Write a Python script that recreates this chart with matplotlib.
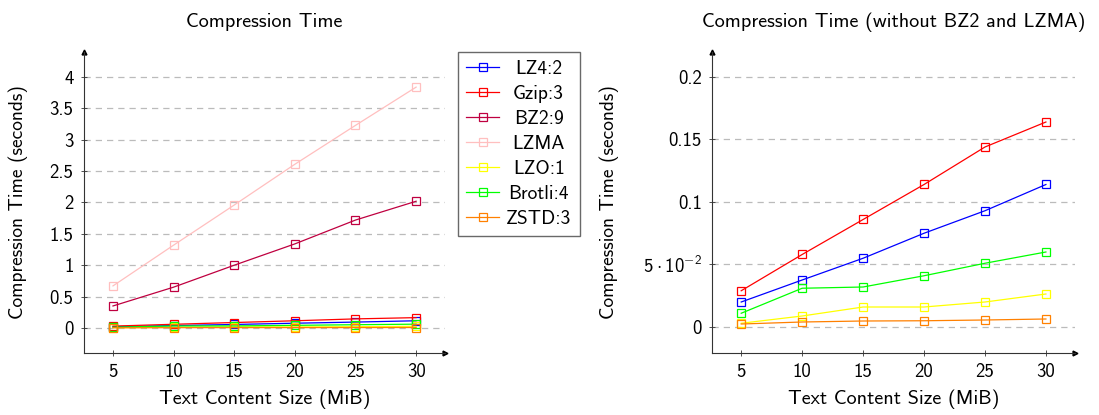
import matplotlib.pyplot as plt
from matplotlib.lines import Line2D

plt.rcParams['font.family'] = ['cmss10', 'DejaVu Sans']
plt.rcParams['mathtext.fontset'] = 'custom'
plt.rcParams['mathtext.rm'] = 'cmss10'
plt.rcParams['axes.formatter.use_mathtext'] = True

# data (seconds) per text size in MiB
sizes = [5, 10, 15, 20, 25, 30]
lz4 = [0.020, 0.0376, 0.055, 0.075, 0.093, 0.114]
gzip = [0.029, 0.058, 0.086, 0.114, 0.144, 0.164]
bz2 = [0.35, 0.65, 1.00, 1.34, 1.72, 2.02]
lzma = [0.67, 1.32, 1.96, 2.61, 3.23, 3.84]
lzo = [0.003, 0.0088, 0.016, 0.016, 0.020, 0.0264]
brotli = [0.011, 0.031, 0.032, 0.041, 0.051, 0.060]
zstd = [0.0024, 0.004, 0.0048, 0.005, 0.0056, 0.0064]

names = ['LZ4:2', 'Gzip:3', 'BZ2:9', 'LZMA', 'LZO:1', 'Brotli:4', 'ZSTD:3']
colors = ['#0000ff', '#ff0000', '#bf0040', '#ffbfbf', '#ffff00', '#00ff00', '#ff8000']
series = [lz4, gzip, bz2, lzma, lzo, brotli, zstd]

left_ticks = [0, 0.5, 1, 1.5, 2, 2.5, 3, 3.5, 4]
left_labels = ['0', '0.5', '1', '1.5', '2', '2.5', '3', '3.5', '4']
right_ticks = [0, 0.05, 0.1, 0.15, 0.2]
right_labels = ['0', r'$5\cdot10^{-2}$', '0.1', '0.15', '0.2']

MS = 5.5
LW = 0.9

fig = plt.figure(figsize=(10.99, 4.15), dpi=100)
ax1 = fig.add_axes([0.0764, 0.1494, 0.3286, 0.7253])
ax2 = fig.add_axes([0.6479, 0.1494, 0.3303, 0.7253])


def style_axes(ax, ylim, yticks, ylabels, title):
    ax.set_xlim(2.607, 32.39)
    ax.set_ylim(*ylim)
    ax.set_xticks(sizes)
    ax.set_xticklabels([str(s) for s in sizes])
    ax.set_yticks(yticks)
    ax.set_yticklabels(ylabels)
    ax.spines['top'].set_visible(False)
    ax.spines['right'].set_visible(False)
    for s in ['left', 'bottom']:
        ax.spines[s].set_color('#333333')
        ax.spines[s].set_linewidth(0.8)
    ax.tick_params(direction='inout', length=5, width=0.6, colors='#333333',
                   labelcolor='black', labelsize=13.5, pad=5)
    ax.yaxis.grid(True, linestyle=(0, (5, 4)), color='#bbbbbb', linewidth=0.9)
    ax.set_axisbelow(True)
    ax.set_title(title, fontsize=14.5, pad=18)
    ax.set_xlabel('Text Content Size (MiB)', fontsize=14.5, labelpad=6)
    ax.set_ylabel('Compression Time (seconds)', fontsize=14)
    # arrow heads
    ax.plot(1, 0, '>', color='black', markersize=3.5, transform=ax.transAxes, clip_on=False)
    ax.plot(0, 1, '^', color='black', markersize=3.5, transform=ax.transAxes, clip_on=False)


for name, c, vals in zip(names, colors, series):
    ax1.plot(sizes, vals, color=c, marker='s', markersize=MS, markerfacecolor='none',
             markeredgewidth=0.9, linewidth=LW, label=name)

for name, c, vals in zip(names, colors, series):
    if name in ('BZ2:9', 'LZMA'):
        continue
    ax2.plot(sizes, vals, color=c, marker='s', markersize=MS, markerfacecolor='none',
             markeredgewidth=0.9, linewidth=LW)

style_axes(ax1, (-0.4, 4.4), left_ticks, left_labels, 'Compression Time')
style_axes(ax2, (-0.0208, 0.22), right_ticks, right_labels,
           'Compression Time (without BZ2 and LZMA)')
ax1.yaxis.set_label_coords(-0.155, 0.5)
ax2.yaxis.set_label_coords(-0.255, 0.5)

handles = [Line2D([], [], color=c, marker='s', markersize=MS, markerfacecolor='none',
                  markeredgewidth=0.9, linewidth=LW) for c in colors]
leg = fig.legend(handles, names, loc='upper left', bbox_to_anchor=(458 / 1099, 1 - 52 / 415),
                 fontsize=14, frameon=True, fancybox=False, handlelength=1.7,
                 handletextpad=0.35, borderpad=0.42, labelspacing=0.36,
                 borderaxespad=0)
leg.get_frame().set_edgecolor('#444444')
leg.get_frame().set_linewidth(1.0)

# center legend labels in their column
fig.canvas.draw()
r = fig.canvas.get_renderer()
widths = [t.get_window_extent(r).width for t in leg.get_texts()]
wmax = max(widths)
for t, w in zip(leg.get_texts(), widths):
    t.set_x((wmax - w) / 2)

fig.savefig('out.png', dpi=100)
